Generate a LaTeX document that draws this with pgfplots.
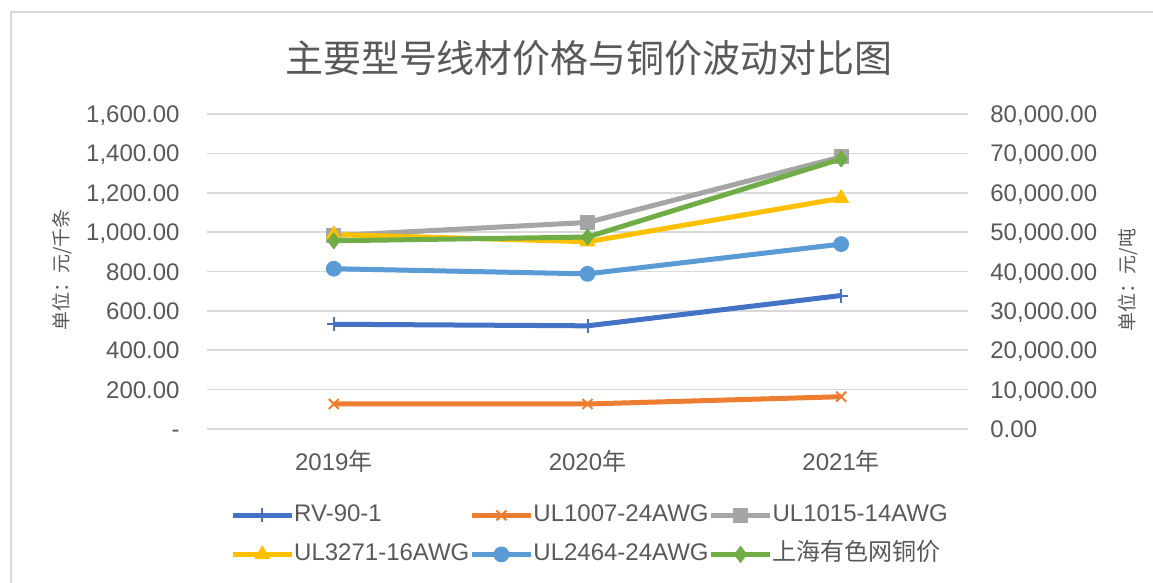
\documentclass[border=0pt]{standalone}
\usepackage{pgfplots}
\pgfplotsset{compat=1.18}
\usepackage{fontspec}
\setmainfont{Liberation Sans}
\newfontfamily\cjk{Noto Sans CJK SC}
\definecolor{txt}{HTML}{595959}
\definecolor{gridc}{HTML}{D9D9D9}
\definecolor{c1}{HTML}{4472C4}
\definecolor{c2}{HTML}{ED7D31}
\definecolor{c3}{HTML}{A5A5A5}
\definecolor{c4}{HTML}{FFC000}
\definecolor{c5}{HTML}{5B9BD5}
\definecolor{c6}{HTML}{70AD47}
\begin{document}
\begin{tikzpicture}[x=1pt,y=1pt]
\useasboundingbox (0,0) rectangle (576.5,291.5);
\fill[white] (0,0) rectangle (576.5,291.5);
\draw[gridc, line width=1.2pt] (5.5,-20) -- (5.5,285.5) -- (600,285.5);
\node[txt, font=\cjk\fontsize{19}{23}\selectfont] at (294.5,262.5) {主要型号线材价格与铜价波动对比图};
\node[txt, rotate=90, font=\cjk\fontsize{9.5}{11}\selectfont] at (31,156.5) {单位：元/千条};
\node[txt, rotate=90, font=\cjk\fontsize{9.5}{11}\selectfont] at (564,151.5) {单位：元/吨};
\pgfplotsset{common/.style={
  scale only axis, width=380.5pt, height=157.5pt, at={(103.5pt,77pt)}, anchor=south west,
  xmin=-0.5, xmax=2.5,
  every axis plot/.append style={line width=2.5pt, line join=round},
  tick label style={font=\fontsize{12}{14}\selectfont, text=txt},
  major tick length=0pt,
  axis line style={draw=none},
  scaled y ticks=false,
}}
\begin{axis}[common,
  ymin=0, ymax=1600, ytick={0,200,...,1600},
  yticklabels={{-},{200.00},{400.00},{600.00},{800.00},{1,000.00},{1,200.00},{1,400.00},{1,600.00}},
  xtick={0,1,2}, xticklabels={2019{\cjk 年},2020{\cjk 年},2021{\cjk 年}},
  ymajorgrids, grid style={gridc, line width=0.8pt},
  yticklabel style={anchor=base east, inner sep=0pt, xshift=-13.5pt, yshift=-4.3pt},
  xticklabel style={anchor=center, inner sep=0pt, yshift=-16pt},
]
\addplot[c1, mark=+, mark size=3.5pt, mark options={solid, line width=1pt}] coordinates {(0,532) (1,524) (2,678)};
\addplot[c2, mark=x, mark size=3.5pt, mark options={solid, line width=1pt}] coordinates {(0,127) (1,127) (2,164)};
\addplot[c3, mark=square*, mark size=3.5pt, mark options={solid, line width=0.5pt, fill=c3}] coordinates {(0,982) (1,1049) (2,1382)};
\addplot[c4, mark=triangle*, mark size=4.2pt, mark options={solid, line width=0.5pt, fill=c4}] coordinates {(0,988) (1,951) (2,1172)};
\addplot[c5, mark=*, mark size=3.7pt, mark options={solid, line width=0.5pt, fill=c5}] coordinates {(0,814) (1,788) (2,939)};
\end{axis}
\begin{axis}[common,
  ymin=0, ymax=80000, ytick={0,10000,...,80000},
  yticklabels={{0.00},{10,000.00},{20,000.00},{30,000.00},{40,000.00},{50,000.00},{60,000.00},{70,000.00},{80,000.00}},
  hide x axis, ytick pos=right, yticklabel pos=right,
  yticklabel style={anchor=base west, inner sep=0pt, xshift=11pt, yshift=-4.3pt},
  legend columns=3,
  legend cell align=left,
  legend image code/.code={\draw[mark repeat=2, mark phase=2, #1] plot coordinates {(0pt,0pt) (14.75pt,0pt) (29.5pt,0pt)};},
  legend style={draw=none, fill=none, at={(0.030,-0.235)}, anchor=north west,
    font=\fontsize{12}{14}\selectfont, text=txt, inner sep=0pt,
    nodes={inner sep=0pt, text height=9pt, text depth=3pt}, row sep=7.5pt,
    /tikz/column sep=0pt},
]
\addlegendimage{c1, line width=2.5pt, mark=+, mark size=3.5pt, mark options={solid, line width=1pt}}
\addlegendimage{c2, line width=2.5pt, mark=x, mark size=3.5pt, mark options={solid, line width=1pt}}
\addlegendimage{c3, line width=2.5pt, mark=square*, mark size=3.5pt, mark options={solid, line width=0.5pt, fill=c3}}
\addlegendimage{c4, line width=2.5pt, mark=triangle*, mark size=4.2pt, mark options={solid, line width=0.5pt, fill=c4}}
\addlegendimage{c5, line width=2.5pt, mark=*, mark size=3.7pt, mark options={solid, line width=0.5pt, fill=c5}}
\addplot[c6, mark=diamond*, mark size=4pt, mark options={solid, line width=0.5pt, fill=c6}] coordinates {(0,47800) (1,48750) (2,68600)};
\legend{RV-90-1,UL1007-24AWG,UL1015-14AWG,UL3271-16AWG,UL2464-24AWG,{\cjk 上海有色网铜价}}
\end{axis}
\end{tikzpicture}
\end{document}
